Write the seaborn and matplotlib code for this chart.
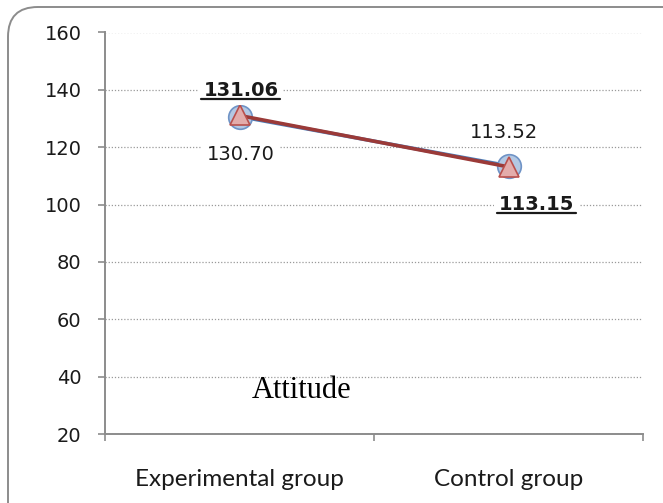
import numpy as np
import pandas as pd
import matplotlib
matplotlib.use("Agg")
import matplotlib.pyplot as plt
from matplotlib.patches import FancyBboxPatch
from matplotlib.lines import Line2D
import seaborn as sns


# =====================
# DATA
# =====================

categories = ["Experimental group", "Control group"]
series_circle = [130.70, 113.52]
series_triangle = [131.06, 113.15]
y_ticks = [20, 40, 60, 80, 100, 120, 140, 160]
chart_label = "Attitude"

pos = np.arange(len(categories))


# =====================
# FIGURE
# =====================

sns.set_theme(style="white")
plt.rcParams["font.family"] = ["DejaVu Sans"]

fig = plt.figure(figsize=(6.63, 5.03), dpi=100)
ax = fig.add_axes([105 / 663, 69 / 503, 538 / 663, 401.5 / 503])

# rounded chart border (right/bottom fall outside the picture)
border = FancyBboxPatch(
    (8 / 663, -0.1),
    1.2,
    1.1 - 7 / 503,
    boxstyle="round,pad=0,rounding_size=0.045",
    transform=fig.transFigure,
    facecolor="none",
    edgecolor="#8c8c8c",
    linewidth=1.4,
    mutation_aspect=663 / 503,
)
fig.patches.append(border)

sns.lineplot(
    x=pos,
    y=series_circle,
    ax=ax,
    color="#4a7ebb",
    linewidth=2.6,
    marker="o",
    markersize=17,
    markerfacecolor="#b3c8e3",
    markeredgecolor="#6f93c6",
    markeredgewidth=1.2,
    zorder=3,
)

sns.lineplot(
    x=pos,
    y=series_triangle,
    ax=ax,
    color="#9b3a38",
    linewidth=2.6,
    marker="^",
    markersize=15,
    markerfacecolor="#e3acab",
    markeredgecolor="#b9504d",
    markeredgewidth=1.2,
    zorder=4,
)

# =====================
# AXES
# =====================

ax.set_xlim(-0.5, len(categories) - 0.5)
ax.set_ylim(20, 160)
ax.set_yticks(y_ticks)
ax.set_yticklabels([str(t) for t in y_ticks])
ax.yaxis.grid(True, linestyle=(0, (1, 1.5)), color="#9a9a9a", linewidth=0.9)
ax.xaxis.grid(False)

ax.set_xticks(np.arange(len(categories) + 1) - 0.5)
ax.set_xticklabels([])
ax.set_xticks(pos, minor=True)
ax.set_xticklabels(categories, minor=True, family="Lato", fontsize=17.5,
                   color="#1a1a1a")

ax.tick_params(axis="y", which="major", direction="out", length=5,
               width=1.2, color="#8c8c8c", left=True, pad=12,
               labelsize=14, labelcolor="#1a1a1a")
ax.tick_params(axis="x", which="major", direction="out", length=5,
               width=1.2, color="#8c8c8c", bottom=True)
ax.tick_params(axis="x", which="minor", length=0, pad=25)

for side in ["top", "right"]:
    ax.spines[side].set_visible(False)
for side in ["left", "bottom"]:
    ax.spines[side].set_color("#8c8c8c")
    ax.spines[side].set_linewidth(1.4)

ax.set_xlabel("")
ax.set_ylabel("")

# =====================
# VALUE LABELS
# =====================

# offsets in points from each point: (dx, dy)
offsets_circle = [(1, -27), (-3, 24)]
offsets_triangle = [(1, 18), (20, -27)]

label_box = dict(boxstyle="square,pad=0.25", facecolor="white",
                 edgecolor="none")

bold_texts = []
for i in range(len(categories)):
    ax.annotate(
        f"{series_circle[i]:.2f}",
        (pos[i], series_circle[i]),
        xytext=offsets_circle[i],
        textcoords="offset points",
        ha="center", va="center",
        fontsize=14, color="#1a1a1a",
        bbox=label_box, zorder=5,
    )
    t = ax.annotate(
        f"{series_triangle[i]:.2f}",
        (pos[i], series_triangle[i]),
        xytext=offsets_triangle[i],
        textcoords="offset points",
        ha="center", va="center",
        fontsize=14, fontweight="bold", color="#1a1a1a",
        bbox=label_box, zorder=5,
    )
    bold_texts.append(t)

fig.text(302 / 663, 1 - 398 / 503, chart_label, family="Liberation Serif",
         fontsize=22, ha="center", va="baseline", color="black")

# underline the bold labels
fig.canvas.draw()
renderer = fig.canvas.get_renderer()
for t in bold_texts:
    bb = t.get_window_extent(renderer)
    y_line = bb.y0 + 1
    fig.add_artist(Line2D([(bb.x0 - 2) / 663, (bb.x1 + 2) / 663],
                          [y_line / 503, y_line / 503],
                          transform=fig.transFigure,
                          color="#1a1a1a", linewidth=1.6, zorder=10))

fig.savefig("out.png", dpi=100)
plt.close(fig)
